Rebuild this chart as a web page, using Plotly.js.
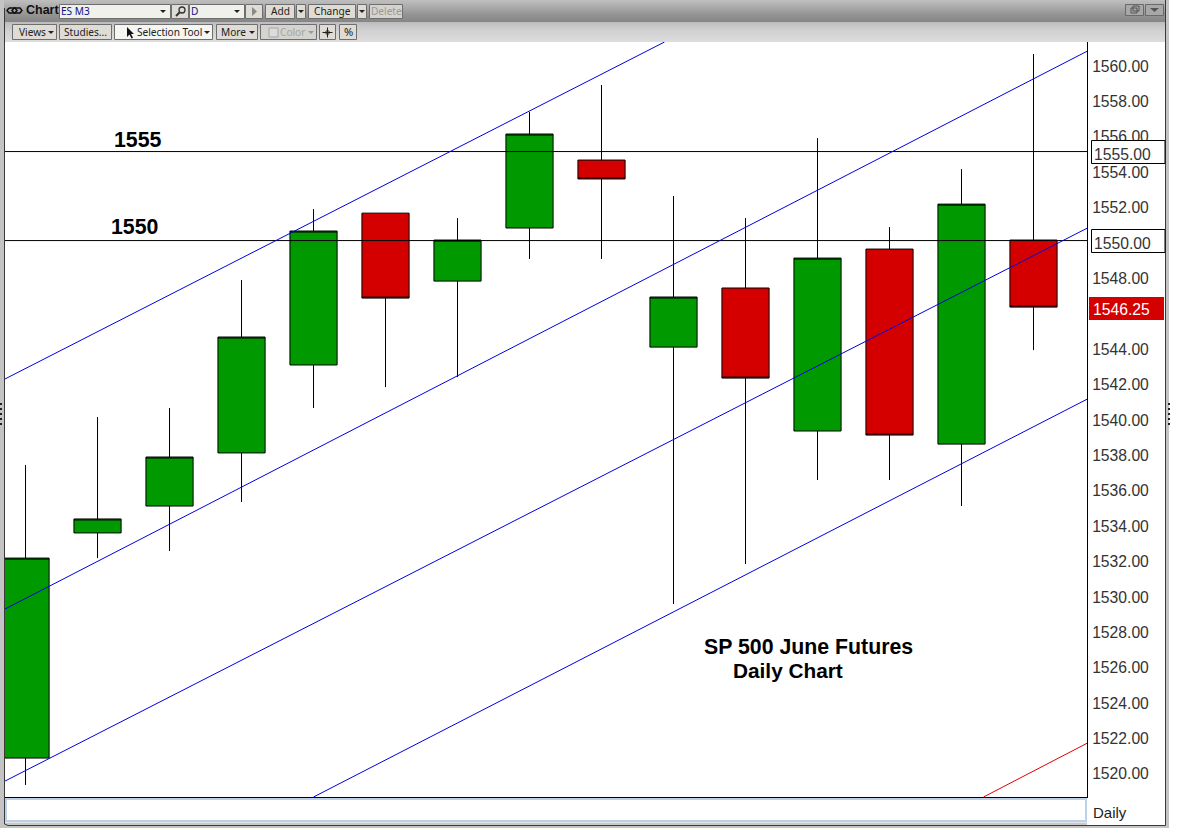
<!DOCTYPE html>
<html>
<head>
<meta charset="utf-8">
<script src="https://cdn.plot.ly/plotly-3.0.1.min.js"></script>
<style>html,body{margin:0;padding:0;background:#fff;overflow:hidden}#chart{width:1178px;height:835px}</style>
</head>
<body>
<div id="chart"></div>
<script>
// Candle data
var sessions = [0,1,2,3,4,5,6,7,8,9,10,11,12,13,14];
var opens  = [1520.90,1533.62,1535.14,1538.14,1543.11,1551.69,1547.85,1550.85,1554.69,1544.12,1547.46,1539.38,1549.66,1538.64,1550.17];
var highs  = [1537.46,1540.17,1540.68,1547.91,1551.92,1551.69,1551.41,1557.40,1558.93,1552.66,1551.41,1555.93,1550.90,1554.18,1560.68];
var lows   = [1519.38,1532.20,1532.60,1535.37,1540.68,1541.86,1542.43,1549.10,1549.10,1529.60,1531.86,1536.61,1536.61,1535.14,1543.95];
var closes = [1532.20,1534.41,1537.91,1544.69,1550.68,1546.89,1550.17,1556.16,1553.62,1546.95,1542.37,1549.15,1539.15,1552.20,1546.38];

// Trend channel end points
var channelAx = [-0.285, 8.875];   var channelAy = [1542.32, 1561.36];
var channelBx = [-0.285, 14.75];   var channelBy = [1529.32, 1560.85];
var channelCx = [-0.285, 14.75];   var channelCy = [1519.60, 1550.85];
var channelDx = [4.0, 14.75];      var channelDy = [1518.70, 1541.19];
var redLineX  = [13.306, 14.75];   var redLineY  = [1518.70, 1521.75];
var levelX    = [-0.285, 14.75];
var level1555 = [1555.17, 1555.17];
var level1550 = [1550.14, 1550.14];

// Axis ticks; 1546 and 1550 sit under the price flags in the reference
var yTicks = [1520,1522,1524,1526,1528,1530,1532,1534,1536,1538,1540,1542,1544,1548,1552,1554,1556,1558,1560];

var X_RANGE = [-0.285, 14.743];
var Y_RANGE = [1518.70, 1561.36];

// Plot box in page pixels; used only for window furniture
var L = 5, R = 1087, T = 42, B = 797;
function fx(p){ return (p - L) / (R - L); }
function fy(p){ return 1 - (p - T) / (B - T); }

var shapes = [], annotations = [];
function rect(x0,y0,x1,y1,fill,line,lw){
  shapes.push({type:'rect',xref:'paper',yref:'paper',layer:'above',x0:fx(x0),x1:fx(x1),y0:fy(y0),y1:fy(y1),
    fillcolor:fill,line:{color:line||fill,width:line?(lw||1):0}});
}
function poly(points,fill,line,lw){
  var d = points.map(function(p,i){return (i?'L':'M')+fx(p[0])+' '+fy(p[1]);}).join(' ')+(fill?' Z':'');
  shapes.push({type:'path',xref:'paper',yref:'paper',layer:'above',path:d,fillcolor:fill||'rgba(0,0,0,0)',
    line:{color:line||fill,width:lw===undefined?1:lw}});
}
function label(x,y,t,size,color,anchor,family,bold){
  annotations.push({xref:'paper',yref:'paper',x:fx(x),y:fy(y),text:bold?'<b>'+t+'</b>':t,showarrow:false,
    xanchor:anchor||'center',yanchor:'middle',borderpad:0,borderwidth:0,
    font:{size:size,color:color||'#111',family:family||'"Noto Sans", sans-serif'}});
}

// window frame and gradients
rect(0,0,4,828,'#c4c4c4');
rect(1166,0,1169,828,'#c4c4c4');
rect(0,825,1169,828,'#c4c4c4');
var titleShades = ['#bdbdbd','#bbbbbb','#b8b8b8','#b5b5b5','#b2b2b2','#afafaf','#acacac','#a9a9a9','#a6a6a6','#a3a3a3','#a0a0a0','#9d9d9d','#9a9a9a','#979797','#949494','#929292','#909090','#8e8e8e','#8c8c8c','#8a8a8a','#888888','#868686'];
titleShades.forEach(function(c,i){ rect(4,i,1166,i+1,c); });
var toolShades = ['#bdbdbd','#c0c0c0','#c3c3c3','#c6c6c6','#c8c8c8','#cacaca','#cccccc','#cecece','#d0d0d0','#d2d2d2','#d3d3d3','#d4d4d4','#d5d5d5','#d6d6d6','#d7d7d7','#d8d8d8','#d9d9d9','#dadada','#dbdbdb','#dcdcdc'];
toolShades.forEach(function(c,i){ rect(4,22+i,1166,23+i,c); });
rect(1088,798,1165,825,'#ffffff');
rect(5,798,1087,825,'#ffffff');
rect(6,799,1086,821,'#ffffff','#bcd0ea',2);
rect(4,822.5,1087,825,'#c9c9c9');
poly([[4.5,8],[4.5,824],[8,825.5],[1165.5,825.5],[1165.5,0]],null,'#3a3a3a',1);
label(1093,812,'Daily',15,'#222','left','"Liberation Sans", sans-serif');

// toolbar widgets
var B1 = '#dedcd4', EDGE = '#6e6e6e', UI = 10.1;
function button(x0,y0,x1,y1,fill){ rect(x0+.5,y0+.5,x1-.5,y1-.5,fill||B1,EDGE,1); }
function down(cx,cy,c){ poly([[cx-3,cy-1.5],[cx+3,cy-1.5],[cx,cy+1.5]],c||'#222','rgba(0,0,0,0)',0); }

// row 1
label(42,10.5,'Chart',12.5,'#111','center','"Liberation Sans", sans-serif',true);
poly([[9,8],[15,8],[17,10.5],[15,13],[9,13],[7,10.5],[9,8]],null,'#111',1.5);
poly([[14,8],[20,8],[22,10.5],[20,13],[14,13],[12,10.5],[14,8]],null,'#111',1.5);
button(59,4,171,19,'#f1f1ec');
label(61,11.5,'ES M3',UI,'#12128c','left');
down(163,11.5);
button(171,4,189,19);
shapes.push({type:'circle',xref:'paper',yref:'paper',layer:'above',x0:fx(179),x1:fx(185),y0:fy(13),y1:fy(7),line:{color:'#333',width:1.3},fillcolor:'rgba(0,0,0,0)'});
poly([[179.5,12.5],[176,16]],null,'#333',2);
button(189,4,245,19,'#f1f1ec');
label(191,11.5,'D',UI,'#12128c','left');
down(237,11.5);
button(245,4,263,19);
poly([[252,7],[252,16],[257,11.5]],'#8a8a8a','#8a8a8a',0);
button(265,4,295,19);
label(280,11.5,'Add',UI,'#222');
button(296,4,306,19);
down(301,11.5);
button(308,4,356,19);
label(332,11.5,'Change',UI,'#222');
button(357,4,367,19);
down(362,11.5);
button(369,4,403,19,'#d4d3cd');
label(386,11.5,'Delete',UI,'#9a9a9a');
// row 2
button(12,24,57,40);
label(32,32,'Views',UI,'#222');
down(51,32.5);
button(59,24,112,40);
label(85.5,32,'Studies...',UI,'#222');
button(114,24,213,40,'#f5f5f2');
label(137,32,'Selection Tool',UI,'#222','left');
down(207,32.5);
poly([[127,27],[127,37],[129.5,34.5],[131.5,38.5],[133,37.8],[131,34],[134,34]],'#111','#111',0);
button(216,24,258,40);
label(234,32,'More',UI,'#222');
down(252,32.5);
button(260,24,317,40,'#d4d3cd');
label(293,32,'Color',UI,'#a5a5a5');
rect(269,28,278,37,'#dcdcdc','#a5a5a5',1);
down(311,32.5,'#9a9a9a');
button(319,24,336,40);
poly([[327.5,27.5],[327.5,37.5]],null,'#222',1);
poly([[322.5,32.5],[332.5,32.5]],null,'#222',1);
poly([[327.5,30],[330,32.5],[327.5,35],[325,32.5]],'rgba(0,0,0,0)','#222',1);
button(339,24,357,40);
label(348,32,'%',UI+1,'#222');

// upper right window buttons
rect(1125.5,4.5,1143.5,15.5,'#a8a8a8','#6a6a6a',1);
rect(1145.5,4.5,1163.5,15.5,'#a8a8a8','#6a6a6a',1);
rect(1131,8,1137,13,'rgba(0,0,0,0)','#555',1);
rect(1133,6,1139,11,'rgba(0,0,0,0)','#555',1);
poly([[1150,8],[1159,8],[1154.5,12]],'#555','#555',0);

// resize grips
[0,1,2,3,4].forEach(function(i){
  rect(0,403+i*5,2,405+i*5,'#222');
  rect(1168,403+i*5,1170,405+i*5,'#222');
});

// axis flags
var AXF = '"Liberation Sans", Arial, sans-serif';
var AXS = 15.7;
rect(1091.5,140.5,1165,163.5,'#ffffff','#000000',1);
label(1094,154.5,'1555.00',AXS,'#333','left',AXF);
rect(1091.5,229.5,1165,252.5,'#ffffff','#000000',1);
label(1094,243.5,'1550.00',AXS,'#333','left',AXF);
rect(1089,297,1164,320,'#d40000');
label(1093,310,'1546.25',AXS,'#ffffff','left',AXF);

// chart text
label(138,140.5,'1555',21.3,'#000','center',AXF,true);
label(134,226.5,'1550',21.3,'#000','center',AXF,true);
label(808,646.5,'SP 500 June Futures',21.3,'#000','center',AXF,true);
label(788,670.5,'Daily Chart',20.8,'#000','center',AXF,true);

function seg(x,y,c){
  return {type:'scatter',mode:'lines',x:x,y:y,line:{color:c,width:1},hoverinfo:'skip',showlegend:false,cliponaxis:true};
}

var traces = [
  {type:'candlestick',x:sessions,open:opens,high:highs,low:lows,close:closes,whiskerwidth:0,showlegend:false,hoverinfo:'skip',
   increasing:{line:{color:'#000',width:1},fillcolor:'#009900'},
   decreasing:{line:{color:'#000',width:1},fillcolor:'#d40000'}},
  seg(levelX,level1555,'#000'),
  seg(levelX,level1550,'#000'),
  seg(channelAx,channelAy,'#0000e0'),
  seg(channelBx,channelBy,'#0000e0'),
  seg(channelCx,channelCy,'#0000e0'),
  seg(channelDx,channelDy,'#0000e0'),
  seg(redLineX,redLineY,'#e00000')
];

var layout = {
  width:1178,height:835,autosize:false,
  margin:{l:L,r:1178-R,t:T,b:835-B,pad:0},
  paper_bgcolor:'#ffffff',plot_bgcolor:'#ffffff',
  showlegend:false,dragmode:false,hovermode:false,boxgap:0.345,boxgroupgap:0,
  xaxis:{type:'linear',range:X_RANGE,showgrid:false,zeroline:false,showticklabels:false,ticks:'',
         showline:true,linecolor:'#000',linewidth:1,rangeslider:{visible:false},fixedrange:true},
  yaxis:{type:'linear',side:'right',range:Y_RANGE,tickmode:'array',tickvals:yTicks,tickformat:'.2f',showgrid:false,zeroline:false,
         ticks:'',ticklabelstandoff:1,showline:true,linecolor:'#000',linewidth:1,fixedrange:true,
         tickfont:{family:AXF,size:AXS,color:'#333'}},
  shapes:shapes,annotations:annotations
};
Plotly.newPlot('chart',traces,layout,{displayModeBar:false,staticPlot:true});
</script>
</body>
</html>
